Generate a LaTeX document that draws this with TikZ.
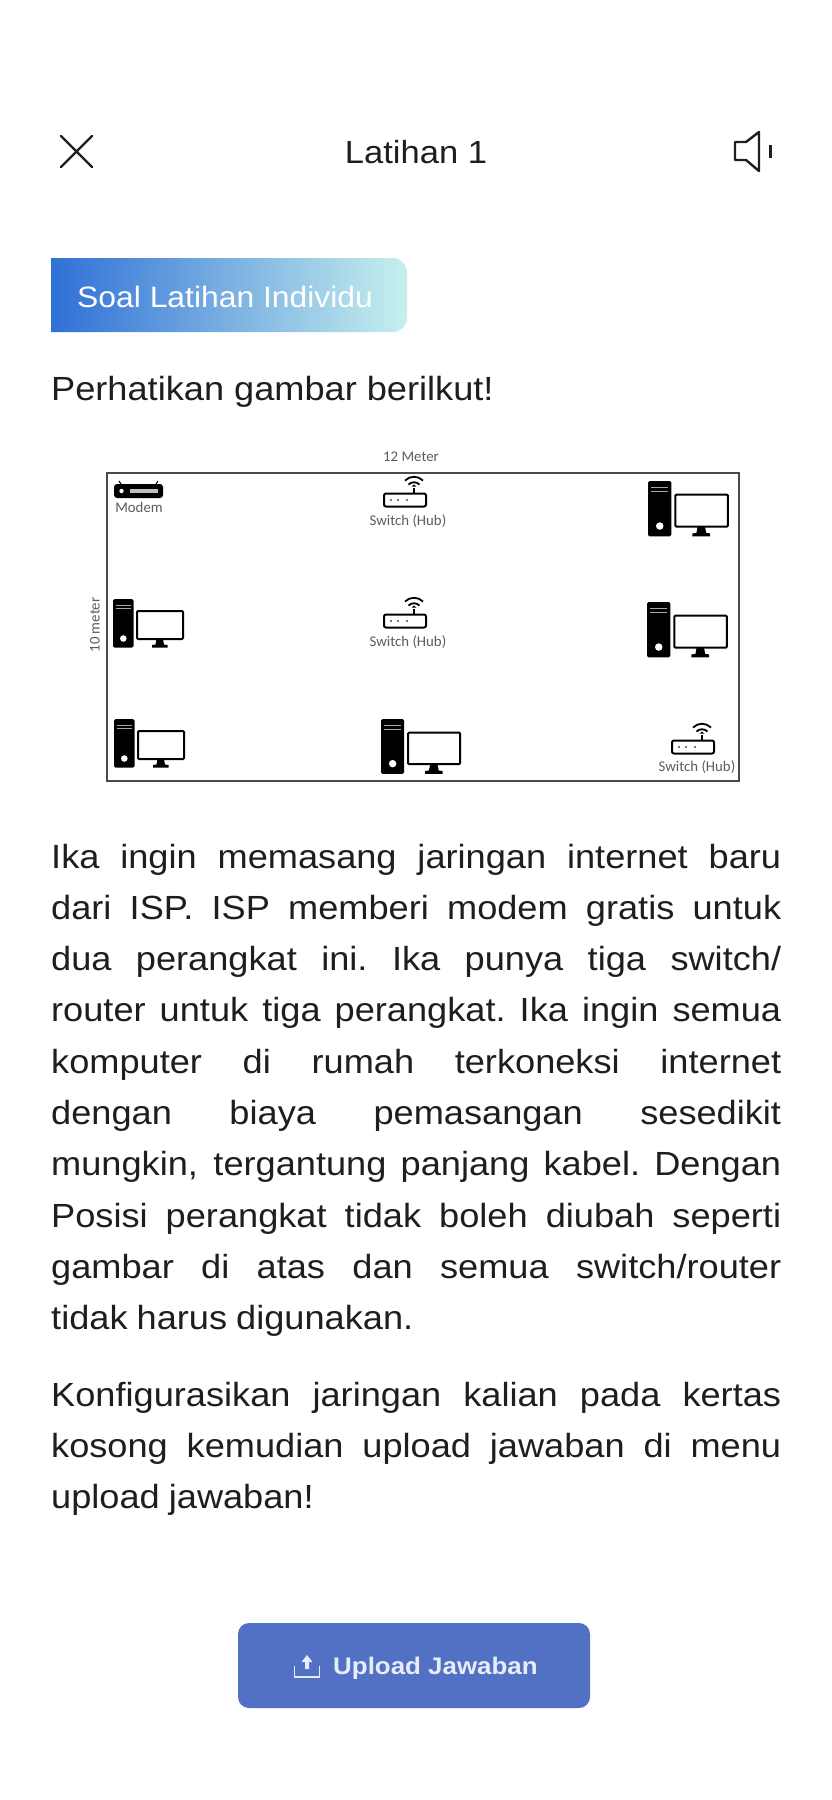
\documentclass[tikz,border=0pt]{standalone}
\usepackage{fontspec}
\setmainfont[FakeStretch=1.08]{Liberation Sans}
\newfontfamily\labelfont{Carlito}
\definecolor{ink}{HTML}{1E1E1E}
\definecolor{gray1}{HTML}{5C5C5C}
\definecolor{frameC}{HTML}{4A4A4A}
\definecolor{btn}{HTML}{5271C4}
\definecolor{btnT}{HTML}{E6ECF8}
\definecolor{gA}{HTML}{2F70D6}
\definecolor{gB}{HTML}{C6F0EE}
\newlength{\lw}\setlength{\lw}{730pt}
\newcommand{\jl}[1]{\hbox to \lw{\spaceskip=.27em plus 1fil minus .1em\xspaceskip=\spaceskip\relax #1}}
\newcommand{\nl}[1]{\hbox{\spaceskip=.27em\xspaceskip=\spaceskip\relax #1}}
\tikzset{
  txt/.style={anchor=base west,inner sep=0,text=ink,font=\fontsize{33.5}{40}\selectfont},
  lab/.style={inner sep=0,text=gray1,font=\labelfont\fontsize{14.8}{17}\selectfont},
  pics/pcicon/.style={code={
    \fill[black,rounded corners=1.5] (0,0) rectangle (20.5,48.5);
    \draw[gray!70,line width=1] (3,6) -- (17.5,6) (3,9.5) -- (17.5,9.5);
    \fill[white] (10.3,39.5) circle (3.3);
    \draw[black,line width=2,rounded corners=1] (24,12) rectangle (70,40);
    \fill[black] (43.5,40) -- (50,40) -- (51,45.5) -- (54.5,46) -- (54.5,48.5) -- (39,48.5) -- (39,46) -- (42.5,45.5) -- cycle;
  }},
  pics/routericon/.style={code={
    \draw[black,line width=2,rounded corners=2] (-21,-6.5) rectangle (21,6.5);
    \fill[gray!60!black] (-14,0) circle (1.2) (-7,0) circle (1.2) (2,0) circle (1.2);
    \draw[black,line width=1.5] (9,-6.5) -- (9,-12);
    \draw[black,line width=1.8] (0,-19.5) .. controls (5,-24.5) and (13,-24.5) .. (18,-19.5);
    \draw[black,line width=1.8] (3.5,-15.5) .. controls (6.5,-18.5) and (11.5,-18.5) .. (14.5,-15.5);
    \fill[black] (6.7,-13.5) -- (9,-15.5) -- (11.3,-13.5) -- cycle;
  }}
}
\begin{document}
\begin{tikzpicture}[x=1pt,y=-1pt]
\useasboundingbox (0,0) rectangle (831,1800);
\fill[white] (0,0) rectangle (831,1800);
% header
\draw[ink,line width=2.4,line cap=round] (61,136) -- (92,167) (92,136) -- (61,167);
\node[txt,anchor=base,font=\fontsize{32}{40}\selectfont] (title) at (416,163) {Latihan 1};
\draw[ink,line width=2.4,line join=round] (735,142) -- (746,142) -- (759,132) -- (759,171) -- (746,160) -- (735,160) -- cycle;
\draw[ink,line width=3] (770,145) -- (770,158);
% banner
\path[left color=gA,right color=gB,rounded corners=14] (51,258) [sharp corners] -- (200,258) [rounded corners=14] -- (407,258) -- (407,332) [sharp corners] -- (200,332) -- (51,332) -- cycle;
\node[txt,text=white,font=\fontsize{29.5}{36}\selectfont] (badge) at (77,307) {Soal Latihan Individu};
\node[txt] (intro) at (51,400) {Perhatikan gambar berilkut!};
% diagram
\draw[frameC,line width=2.8] (107,473) rectangle (739,781);
\node[lab] (len) at (411,457) {12 Meter};
\node[lab,rotate=90] (wid) at (95,625) {10 meter};
\fill[black,rounded corners=3] (114,484) rectangle (163,498);
\draw[black,line width=1] (121,484) -- (119,481) (156,484) -- (158,481);
\fill[white] (121.5,491) circle (2.2);
\fill[white,opacity=.75] (130,489) rectangle (158,493);
\node[lab] (modem) at (139,507) {Modem};
\pic at (405,500) {routericon};
\node[lab] (sw1) at (408,521) {Switch (Hub)};
\pic at (405,621) {routericon};
\node[lab] (sw2) at (408,642) {Switch (Hub)};
\pic at (693,747) {routericon};
\node[lab] (sw3) at (697,767) {Switch (Hub)};
\pic at (113,599) {pcicon};
\pic at (114,719) {pcicon};
\pic[scale=1.13] at (381,719) {pcicon};
\pic[scale=1.14] at (648,481) {pcicon};
\pic[scale=1.14] at (647,602) {pcicon};
% paragraphs
\node[txt] (p1) at (51,868) {\vtop{\baselineskip=51.3pt
\jl{Ika ingin memasang jaringan internet baru}
\jl{dari ISP. ISP memberi modem gratis untuk}
\jl{dua perangkat ini. Ika punya tiga switch/}
\jl{router untuk tiga perangkat. Ika ingin semua}
\jl{komputer di rumah terkoneksi internet}
\jl{dengan biaya pemasangan sesedikit}
\jl{mungkin, tergantung panjang kabel. Dengan}
\jl{Posisi perangkat tidak boleh diubah seperti}
\jl{gambar di atas dan semua switch/router}
\nl{tidak harus digunakan.}}};
\node[txt] (p2) at (51,1406) {\vtop{\baselineskip=51.3pt
\jl{Konfigurasikan jaringan kalian pada kertas}
\jl{kosong kemudian upload jawaban di menu}
\nl{upload jawaban!}}};
% button
\fill[btn,rounded corners=11] (238,1623) rectangle (590,1708);
\draw[btnT,line width=1.5] (294.5,1666) -- (294.5,1677) -- (319.5,1677) -- (319.5,1666);
\fill[btnT] (307,1655) -- (312.5,1662) -- (309,1662) -- (309,1669) -- (305,1669) -- (305,1662) -- (301.5,1662) -- cycle;
\node[txt,text=btnT,font=\bfseries\fontsize{24}{30}\selectfont] (upload) at (333,1674) {Upload Jawaban};
\end{tikzpicture}
\end{document}
